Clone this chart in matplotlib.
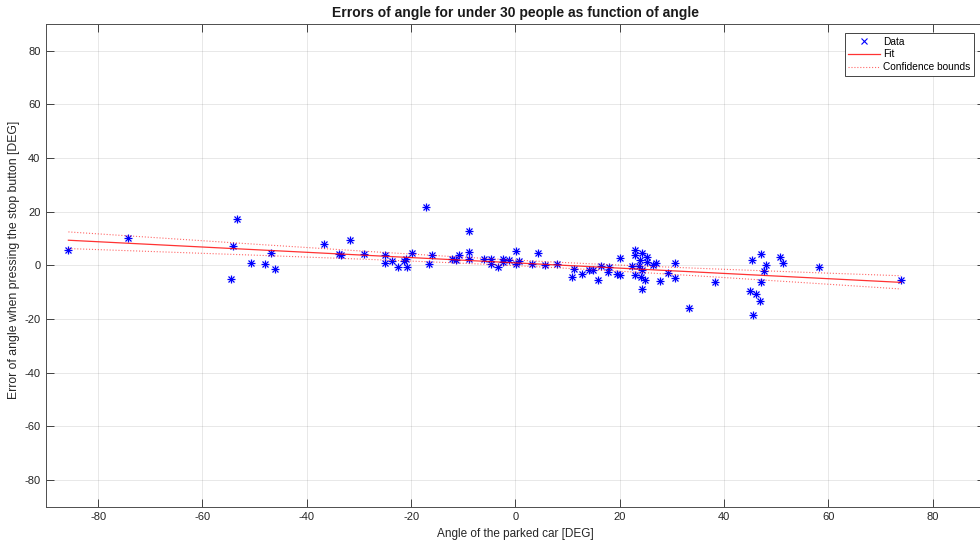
import numpy as np
import matplotlib
matplotlib.use('Agg')
import matplotlib.pyplot as plt
from matplotlib.lines import Line2D

plt.rcParams['font.family'] = ['Liberation Sans', 'DejaVu Sans']
plt.rcParams['axes.unicode_minus'] = False

# Winkel des geparkten Autos [DEG]
angle = [-85.7, -74.2, -54.6, -54.1, -53.3, -50.6, -48.0, -46.9, -46.0,
         -36.6, -33.9, -33.5, -31.7, -29.0, -25.0, -25.0, -23.7, -22.5,
         -21.3, -20.9, -20.8, -19.8, -17.2, -16.6, -15.9, -12.1, -11.4,
         -10.9, -8.8, -8.8, -8.8, -6.0, -4.7, -4.7, -3.3, -2.4, -2.4,
         -1.3, 0.1, 0.6, 0.1, 3.1, 4.3, 5.6, 7.9, 11.3, 10.8, 12.7, 14.2,
         14.8, 15.9, 16.5, 17.8, 18.0, 19.4, 20.1, 20.0, 22.4, 22.9, 23.0,
         23.9, 23.7, 24.2, 23.0, 24.1, 24.8, 24.2, 24.2, 25.3, 25.2, 26.3,
         26.9, 27.7, 29.3, 30.6, 30.6, 33.2, 38.2, 45.3, 47.1, 48.0, 47.6,
         50.8, 51.3, 47.1, 45.0, 46.2, 46.9, 45.5, 58.3, 73.9]

# Fehler beim Druecken des Stopp-Knopfes [DEG]
error = [5.6, 10.3, -5.1, 7.1, 17.1, 1.0, 0.6, 4.6, -1.5,
         8.1, 4.4, 4.0, 9.3, 4.1, 4.0, 1.0, 1.5, -0.5,
         1.6, 2.5, -0.7, 4.6, 21.8, 0.6, 3.8, 2.2, 2.1,
         3.7, 12.7, 5.1, 2.5, 2.5, 2.2, 0.4, -0.5, 2.2, 1.4,
         1.9, 5.2, 1.5, 0.4, 0.4, 4.6, 0.3, 0.6, -1.4, -4.2, -3.4, -1.7,
         -1.7, -5.3, -0.1, -2.5, -0.6, -3.1, -3.7, 2.9, -0.4, 5.9, 4.0,
         2.1, -0.3, 4.6, -3.5, -4.5, -5.5, -8.8, -1.9, 3.1, 1.1, 0.0,
         1.0, -5.7, -2.9, 1.0, -4.7, -15.8, -6.2, 1.9, 4.2, 0.0, -2.0,
         3.0, 0.7, -6.2, -9.5, -10.8, -13.2, -18.4, -0.6, -5.3]

x = np.array(angle)
y = np.array(error)

# Lineare Regression + Konfidenzintervall (95 %)
b, a = np.polyfit(x, y, 1)
xf = np.linspace(x.min(), x.max(), 200)
yf = a + b * xf
n = len(x)
res = y - (a + b * x)
s = np.sqrt(np.sum(res**2) / (n - 2))
sxx = np.sum((x - x.mean())**2)
t = 1.984
ci = t * s * np.sqrt(1 / n + (xf - x.mean())**2 / sxx)

fig = plt.figure(figsize=(9.8, 5.41), dpi=100)
ax = fig.add_axes([0.0469, 0.063, 0.958, 0.893])

ax.plot(x, y, '+', color='blue', markersize=6, mew=0.9)
ax.plot(x, y, 'x', color='blue', markersize=4.5, mew=0.9)
ax.plot(xf, yf, '-', color='red', lw=0.9, alpha=0.8)
ax.plot(xf, yf + ci, ':', color='red', lw=0.8, alpha=0.6)
ax.plot(xf, yf - ci, ':', color='red', lw=0.8, alpha=0.6)

ax.set_xlim(-90, 90)
ax.set_ylim(-90, 90)
ax.set_xticks(np.arange(-80, 81, 20))
ax.set_yticks(np.arange(-80, 81, 20))
ax.grid(True, color='#262626', alpha=0.12, lw=0.6)
ax.tick_params(direction='in', top=True, right=True, labelsize=8,
               colors='#262626', length=6, width=0.6, pad=4)
for sp in ax.spines.values():
    sp.set_color('#4d4d4d')
    sp.set_linewidth(0.7)

ax.set_title('Errors of angle for under 30 people as function of angle',
             fontsize=10, fontweight='bold', pad=5, color='#1a1a1a')
ax.set_xlabel('Angle of the parked car [DEG]', fontsize=8.5, color='#262626', labelpad=4)
ax.set_ylabel('Error of angle when pressing the stop button [DEG]', fontsize=8.8,
              color='#262626')
ax.yaxis.set_label_coords(-0.0277, 0.511)

handles = [Line2D([], [], color='blue', marker='x', ls='none', markersize=4.5, mew=0.8),
           Line2D([], [], color='red', lw=0.9, alpha=0.8),
           Line2D([], [], color='red', lw=0.8, ls=':', alpha=0.6)]
leg = ax.legend(handles, ['Data', 'Fit', 'Confidence bounds'], loc='upper left',
                bbox_to_anchor=(0.851, 0.981), fontsize=7.3, frameon=True, fancybox=False,
                borderpad=0.35, labelspacing=0.28, handlelength=3.1, handletextpad=0.3,
                borderaxespad=0)
leg.get_frame().set_edgecolor('#262626')
leg.get_frame().set_linewidth(0.6)
leg.get_frame().set_alpha(1)

fig.savefig('out.png', dpi=100)
